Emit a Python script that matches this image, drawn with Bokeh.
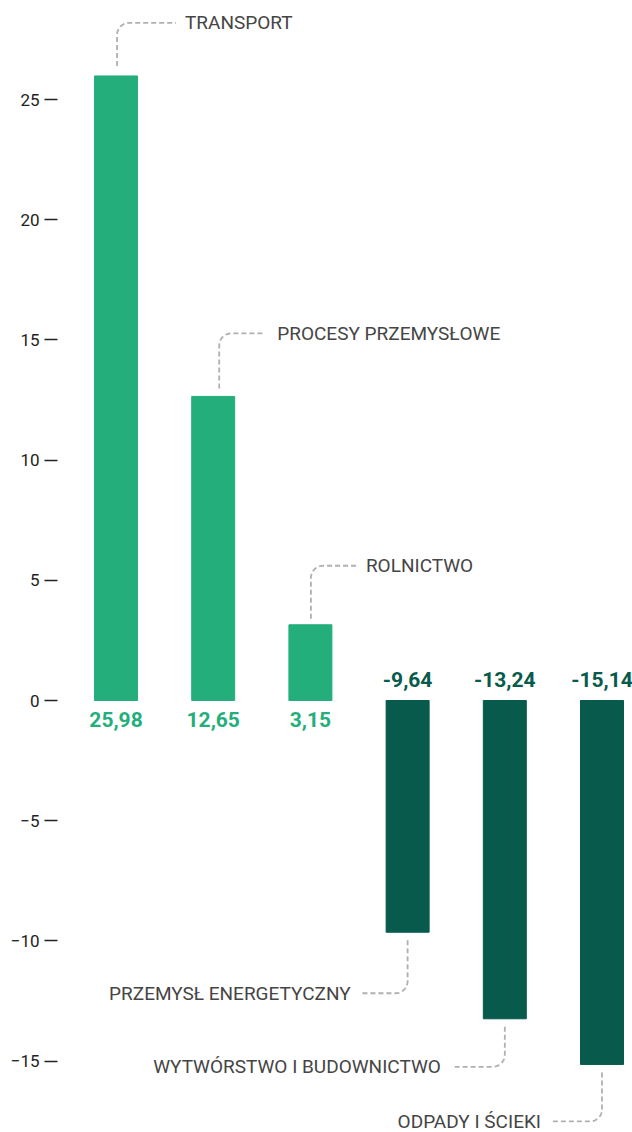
import math
from bokeh.plotting import figure
from bokeh.models import Range1d, FixedTicker, Label, ColumnDataSource
from bokeh.core.properties import value
from bokeh.embed import file_html
from bokeh.resources import INLINE

# ---- data ----
categories = ["TRANSPORT", "PROCESY PRZEMYSŁOWE", "ROLNICTWO",
              "PRZEMYSŁ ENERGETYCZNY", "WYTWÓRSTWO I BUDOWNICTWO", "ODPADY I ŚCIEKI"]
values = [25.98, 12.65, 3.15, -9.64, -13.24, -15.14]
value_labels = ["25,98", "12,65", "3,15", "-9,64", "-13,24", "-15,14"]
y_ticks = [-15, -10, -5, 0, 5, 10, 15, 20, 25]
unit_label = "%"

# ---- layout / style ----
W, H = 632, 1132
LEFT = 57
KX = 97.2    # px per category
KY = 24.04   # px per y unit
X_START = -0.602
X_END = X_START + (W - LEFT) / KX
Y_END = 700 / KY
Y_START = -(H - 700) / KY
BAR_W_PX = 43

GREEN = "#24AE7C"
DARK = "#085B4C"
LABEL_C = "#454545"
LINE_C = "#B0B0B0"
FONT = "Roboto"

# connector settings per label: gap, elbow, hlen, text gap, x shift (px)
conn = [
    (10, 53, 59, 9, 1),
    (8, 63, 46, 12, 6),
    (6, 59, 47, 8, 0.5),
    (8, 61, 47, 10, 0),
    (8, 48, 52, 12, 0),
    (8, 57, 50, 11, 0),
]
R = 12

p = figure(width=W, height=H, output_backend="svg", toolbar_location=None,
           x_range=Range1d(X_START, X_END), y_range=Range1d(Y_START, Y_END),
           min_border_left=LEFT, min_border_right=0, min_border_top=0, min_border_bottom=0)
p.outline_line_color = None
p.xgrid.visible = False
p.ygrid.visible = False
p.xaxis.visible = False
p.background_fill_color = "white"
p.border_fill_color = "white"

ax = p.yaxis[0]
ax.ticker = FixedTicker(ticks=y_ticks)
ax.axis_line_color = None
ax.major_tick_in = 0
ax.major_tick_out = 13
ax.major_tick_line_width = 1.6
ax.major_tick_line_color = "#222222"
ax.minor_tick_line_color = None
ax.major_label_standoff = 5
ax.major_label_text_font = FONT
ax.major_label_text_font_size = "17px"
ax.major_label_text_color = "#222222"

xs = list(range(len(values)))
colors = [GREEN if v >= 0 else DARK for v in values]
src = ColumnDataSource(dict(x=xs, top=values, color=colors, lab=value_labels,
                            off=[19 if v >= 0 else -21 for v in values]))
p.vbar(x="x", top="top", bottom=0, width=BAR_W_PX / KX, color="color", source=src)

p.text(x="x", y=0, text="lab", y_offset="off", text_color="color",
       text_font=value(FONT), text_font_style="bold", text_font_size="21px",
       text_align="center", text_baseline="middle", source=src)

# connectors
lx, ly, tx, ty, ta = [], [], [], [], []
for i, v in enumerate(values):
    gap, elbow, hlen, tgap, xs_px = conn[i]
    s = 1 if v >= 0 else -1
    cx = i + xs_px / KX
    px = [cx]
    py = [v + s * gap / KY]
    for k in range(0, 13):
        t = (math.pi / 2) * k / 12
        px.append(cx + s * R * (1 - math.cos(t)) / KX)
        py.append(v + s * (elbow - R + R * math.sin(t)) / KY)
    px.append(cx + s * hlen / KX)
    py.append(v + s * elbow / KY)
    lx.append(px)
    ly.append(py)
    tx.append(cx + s * (hlen + tgap) / KX)
    ty.append(v + s * elbow / KY)
    ta.append("left" if s > 0 else "right")

p.multi_line(xs=lx, ys=ly, line_color=LINE_C, line_width=1.8, line_dash="5 3")
p.text(x=tx, y=ty, text=categories, text_align=ta, text_baseline="middle",
       text_font=value(FONT), text_font_size="19px", text_color=LABEL_C)

p.add_layout(Label(x=X_START - 25 / KX, y=25 + 26 / KY, text=unit_label,
                   text_font=FONT, text_font_size="16px", text_color="#222222",
                   text_align="center", text_baseline="middle"))

open("out.html", "w").write(file_html(p, INLINE))
